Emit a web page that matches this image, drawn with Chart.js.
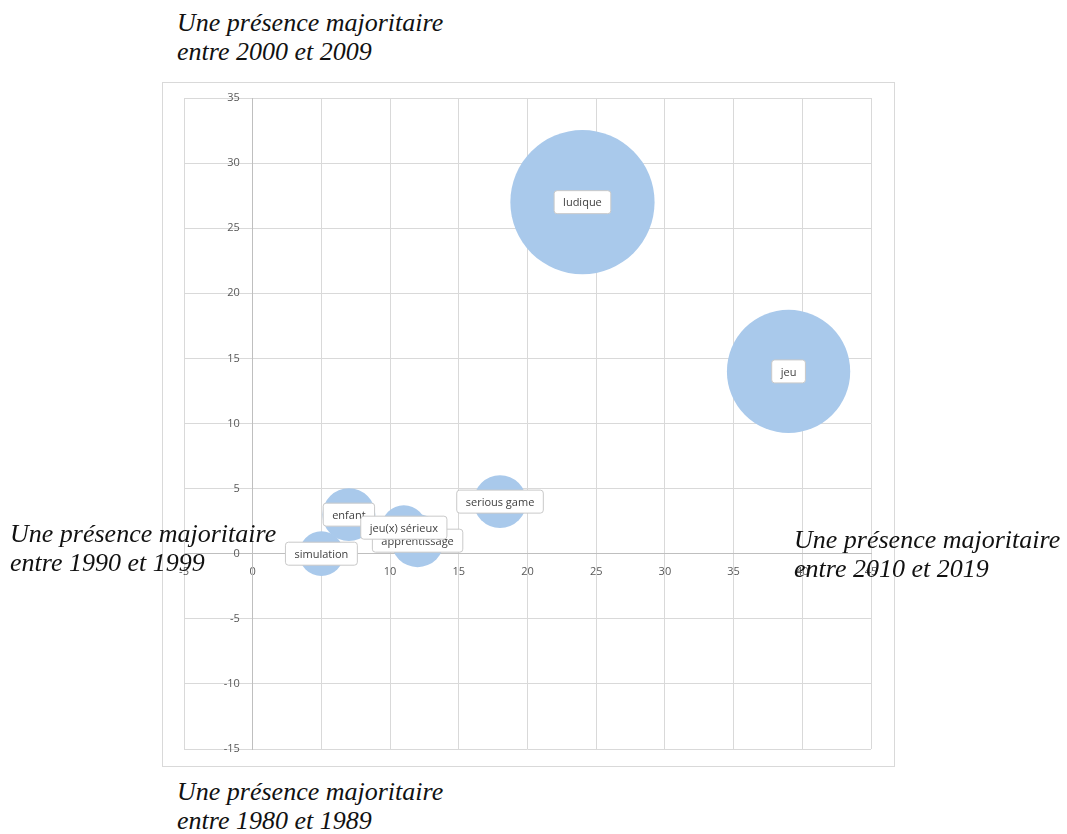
<!DOCTYPE html>
<html>
<head>
<meta charset="utf-8">
<script src="https://cdn.jsdelivr.net/npm/chart.js@4"></script>
<style>
  body { margin: 0; background: #fff; width: 1067px; height: 834px; position: relative; overflow: hidden; }
  #box { position: absolute; left: 162px; top: 82px; width: 731px; height: 683px; border: 1px solid #d9d9d9; }
  .note { position: absolute; font-family: "Liberation Serif", "DejaVu Serif", serif; font-style: italic;
          font-size: 26px; line-height: 29px; color: #111; white-space: nowrap; }
</style>
</head>
<body>
<div id="box"><canvas id="myChart" width="731" height="683"></canvas></div>
<div class="note" style="left:177px; top:8px">Une présence majoritaire<br>entre 2000 et 2009</div>
<div class="note" style="left:10px; top:519px">Une présence majoritaire<br>entre 1990 et 1999</div>
<div class="note" style="left:794px; top:525px">Une présence majoritaire<br>entre 2010 et 2019</div>
<div class="note" style="left:177px; top:777px">Une présence majoritaire<br>entre 1980 et 1989</div>
<script>
// mots-clés, ordre = ordre de dessin des étiquettes
let labels = ["simulation", "enfant", "apprentissage", "jeu(x) sérieux", "serious game", "ludique", "jeu"];
let xValues = [5, 7, 12, 11, 18, 24, 39];
let yValues = [0, 3, 1, 2, 4, 27, 14];
let bubbleSizes = [5, 7, 7, 5, 7, 52, 38];
let xTicks = [-5, 0, 5, 10, 15, 20, 25, 30, 35, 40, 45];
let yTicks = [-15, -10, -5, 0, 5, 10, 15, 20, 25, 30, 35];

document.addEventListener('DOMContentLoaded', e => {
    let ctx = document.getElementById('myChart').getContext('2d');

    let points = [];
    for (let i = 0; i < labels.length; i++) {
        points.push({x: xValues[i], y: yValues[i], r: Math.sqrt(bubbleSizes[i]) * 10});
    }

    createChart(ctx, generateChartData(points), generateChartOptions(), [bubbleLabels]);
});

// étiquettes blanches au centre des bulles
const bubbleLabels = {
    id: 'bubbleLabels',
    afterDatasetsDraw(chart) {
        let ctx = chart.ctx;
        let meta = chart.getDatasetMeta(0);
        ctx.save();
        ctx.font = '11px "Open Sans"';
        ctx.textAlign = 'center';
        ctx.textBaseline = 'middle';
        meta.data.forEach((pt, i) => {
            let w = ctx.measureText(labels[i]).width + 18;
            let h = 23;
            ctx.beginPath();
            ctx.roundRect(pt.x - w / 2, pt.y - h / 2, w, h, 3);
            ctx.fillStyle = '#ffffff';
            ctx.fill();
            ctx.strokeStyle = '#c9c9c9';
            ctx.lineWidth = 1;
            ctx.stroke();
            ctx.fillStyle = '#404040';
            ctx.fillText(labels[i], pt.x, pt.y + 1);
        });
        ctx.restore();
    }
};

function generateChartData(points) {
    return {
        datasets: [{
            data: points,
            backgroundColor: '#a9c9eb',
            borderColor: '#a9c9eb',
            borderWidth: 0,
            hoverRadius: 0
        }]
    };
}

function generateChartOptions() {
    let tickFont = {family: '"Open Sans"', size: 11};
    return {
        responsive: false,
        animation: false,
        // pas de marge auto pour les bulles, zone de tracé fixe
        layout: {autoPadding: false, padding: {left: 21, top: 15, right: 23, bottom: 17}},
        plugins: {legend: {display: false}, tooltip: {enabled: false}},
        scales: {
            x: {
                type: 'linear',
                position: {y: 0},
                min: xTicks[0],
                max: xTicks[xTicks.length - 1],
                afterBuildTicks: s => { s.ticks = xTicks.map(v => ({value: v})); },
                afterFit: s => { s.height = 0; },
                grid: {color: '#d9d9d9', drawTicks: false},
                border: {color: '#bfbfbf'},
                ticks: {color: '#595959', font: tickFont, padding: 12, maxRotation: 0}
            },
            y: {
                type: 'linear',
                position: {x: 0},
                min: yTicks[0],
                max: yTicks[yTicks.length - 1],
                afterBuildTicks: s => { s.ticks = yTicks.map(v => ({value: v})); },
                afterFit: s => { s.width = 0; },
                grid: {color: '#d9d9d9', drawTicks: false},
                border: {color: '#bfbfbf'},
                // pas de padding pour un axe positionné par valeur : espaces en fin de libellé
                ticks: {color: '#595959', font: tickFont, callback: v => v + '\u2003\u2009'}
            }
        }
    };
}

function createChart(ctx, data, options, plugins) {
    var myBubbleChart = new Chart(ctx, {
        type: 'bubble',
        data: data,
        options: options,
        plugins: plugins
    });
}
</script>
</body>
</html>
